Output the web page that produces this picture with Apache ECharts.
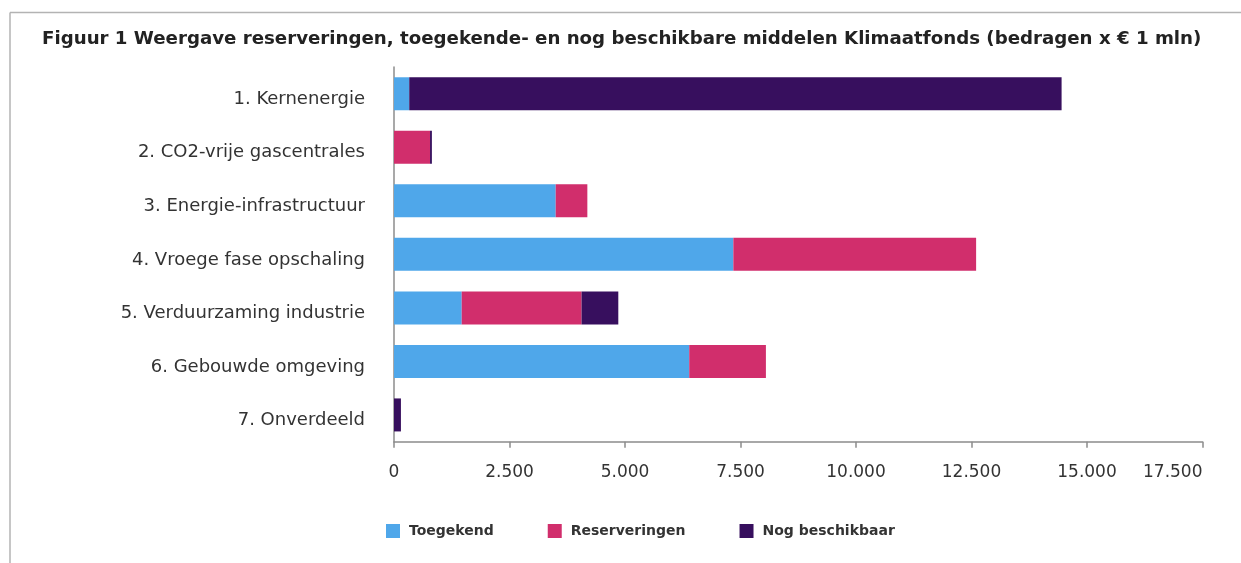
<!DOCTYPE html>
<html>
<head>
<meta charset="utf-8">
<script src="https://cdn.jsdelivr.net/npm/echarts@6/dist/echarts.min.js"></script>
<style>
html,body{margin:0;padding:0;background:#fff;}
#chart{width:1241px;height:563px;}
</style>
</head>
<body>
<div id="chart"></div>
<script>
const titleText = 'Figuur 1 Weergave reserveringen, toegekende- en nog beschikbare middelen Klimaatfonds (bedragen x € 1 mln)';
const categories = [
  '1. Kernenergie',
  '2. CO2-vrije gascentrales',
  '3. Energie-infrastructuur',
  '4. Vroege fase opschaling',
  '5. Verduurzaming industrie',
  '6. Gebouwde omgeving',
  '7. Onverdeeld'
];
const seriesNames = ['Toegekend', 'Reserveringen', 'Nog beschikbaar'];
const toegekend      = [330, 0, 3500, 7345, 1465, 6390, 0];
const reserveringen  = [0, 780, 685, 5255, 2595, 1660, 0];
const nogBeschikbaar = [14120, 40, 0, 0, 795, 0, 150];
const xTicks = { min: 0, max: 17500, interval: 2500 };
const colors = ['#4fa7ea', '#d12e6c', '#370f5e'];

const FONT = '"DejaVu Sans", sans-serif';
const fmt = v => String(v).replace(/\B(?=(\d{3})+(?!\d))/g, '.');

const chart = echarts.init(document.getElementById('chart'), null, { renderer: 'canvas' });
const dataSets = [toegekend, reserveringen, nogBeschikbaar];

chart.setOption({
  animation: false,
  backgroundColor: '#ffffff',
  title: {
    text: titleText,
    left: 37,
    top: 25,
    textStyle: { fontFamily: FONT, fontWeight: 'bold', fontSize: 18.2, color: '#222' }
  },
  graphic: [
    { type: 'line', shape: { x1: 10, y1: 12.5, x2: 1241, y2: 12.5 }, style: { stroke: '#b3b3b3', lineWidth: 1.5 } },
    { type: 'line', shape: { x1: 10, y1: 12.5, x2: 10, y2: 563 }, style: { stroke: '#b3b3b3', lineWidth: 1.5 } }
  ],
  legend: {
    data: seriesNames,
    left: 381,
    top: 519,
    icon: 'rect',
    itemWidth: 14,
    itemHeight: 14,
    itemGap: 54,
    textStyle: { fontFamily: FONT, fontWeight: 'bold', fontSize: 14, color: '#333', padding: [0, 0, 0, 4] }
  },
  grid: { left: 394, right: 38.5, top: 67, bottom: 121.3, containLabel: false },
  xAxis: {
    type: 'value',
    min: xTicks.min,
    max: xTicks.max,
    interval: xTicks.interval,
    axisLine: { show: true, lineStyle: { color: '#8c8c8c', width: 1.5 } },
    axisTick: { show: true, length: 6, lineStyle: { color: '#8c8c8c', width: 1.5 } },
    splitLine: { show: false },
    axisLabel: {
      fontFamily: FONT, fontSize: 17, color: '#333', margin: 22,
      alignMaxLabel: 'right',
      formatter: fmt
    }
  },
  yAxis: {
    type: 'category',
    data: categories,
    inverse: true,
    axisLine: { show: true, lineStyle: { color: '#8c8c8c', width: 1.5 } },
    axisTick: { show: false },
    axisLabel: {
      margin: 29,
      formatter: v => '{l|' + v + '}',
      rich: {
        l: { fontFamily: FONT, fontSize: 18, color: '#333', padding: [11, 0, 0, 0] }
      }
    }
  },
  series: seriesNames.map((name, i) => ({
    name: name,
    type: 'bar',
    stack: 'total',
    barWidth: 33,
    itemStyle: { color: colors[i] },
    data: dataSets[i]
  }))
});
</script>
</body>
</html>
